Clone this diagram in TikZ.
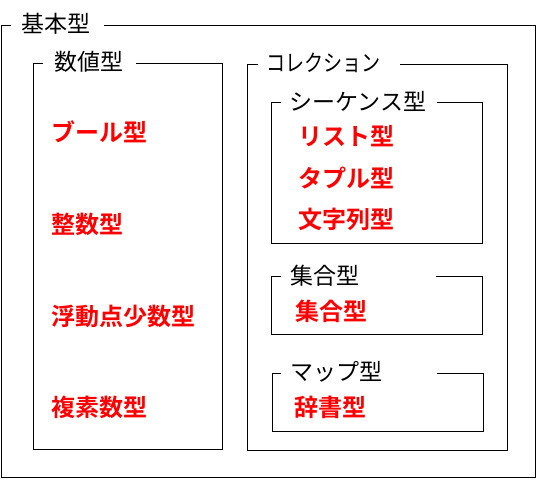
\documentclass[tikz,border=0pt]{standalone}
\usepackage{fontspec}
\newfontfamily\jp{Noto Sans CJK JP}
\newfontfamily\jpn[FakeStretch=0.83]{Noto Sans CJK JP}
\newfontfamily\jpb{Noto Sans CJK JP Bold}
\begin{document}
\begin{tikzpicture}[x=1pt,y=-1pt,
  frame/.style={draw=black,line width=1pt},
  hdr/.style={anchor=west,inner sep=0pt,font=\jp\fontsize{23}{23}\selectfont,text=black},
  item/.style={anchor=west,inner sep=0pt,font=\jpb\fontsize{24}{24}\selectfont,text=red}]
\useasboundingbox (0,0) rectangle (537,479);
% outer
\draw[frame] (11,25) -- (1.5,25) -- (1.5,477.5) -- (535.5,477.5) -- (535.5,25) -- (104,25);
\node[hdr] (kihon) at (21,24) {基本型};
% numeric
\draw[frame] (43,63) -- (33,63) -- (33,449) -- (222,449) -- (222,63) -- (136,63);
\node[hdr] (suchi) at (54,62) {数値型};
\node[item] (bool) at (51,132) {ブール型};
\node[item] (int) at (51,224) {整数型};
\node[item] (float) at (51,316) {浮動点少数型};
\node[item] (complex) at (51,407) {複素数型};
% collection
\draw[frame] (258,64) -- (247,64) -- (247,450) -- (507,450) -- (507,64) -- (400,64);
\node[hdr,font=\jpn\fontsize{23}{23}\selectfont] (coll) at (266,63) {コレクション};
% sequence
\draw[frame] (281,102) -- (271,102) -- (271,243) -- (482,243) -- (482,102) -- (437,102);
\node[hdr] (seq) at (289,101) {シーケンス型};
\node[item] (list) at (298,136) {リスト型};
\node[item] (tuple) at (298,178) {タプル型};
\node[item] (str) at (298,219) {文字列型};
% set
\draw[frame] (281,276) -- (271,276) -- (271,334) -- (482,334) -- (482,276) -- (436,276);
\node[hdr] (sethdr) at (290,276) {集合型};
\node[item] (set) at (295,311) {集合型};
% map
\draw[frame] (281,373) -- (272,373) -- (272,431) -- (483,431) -- (483,373) -- (437,373);
\node[hdr] (maphdr) at (290,372) {マップ型};
\node[item] (dict) at (294,407) {辞書型};
\end{tikzpicture}
\end{document}
